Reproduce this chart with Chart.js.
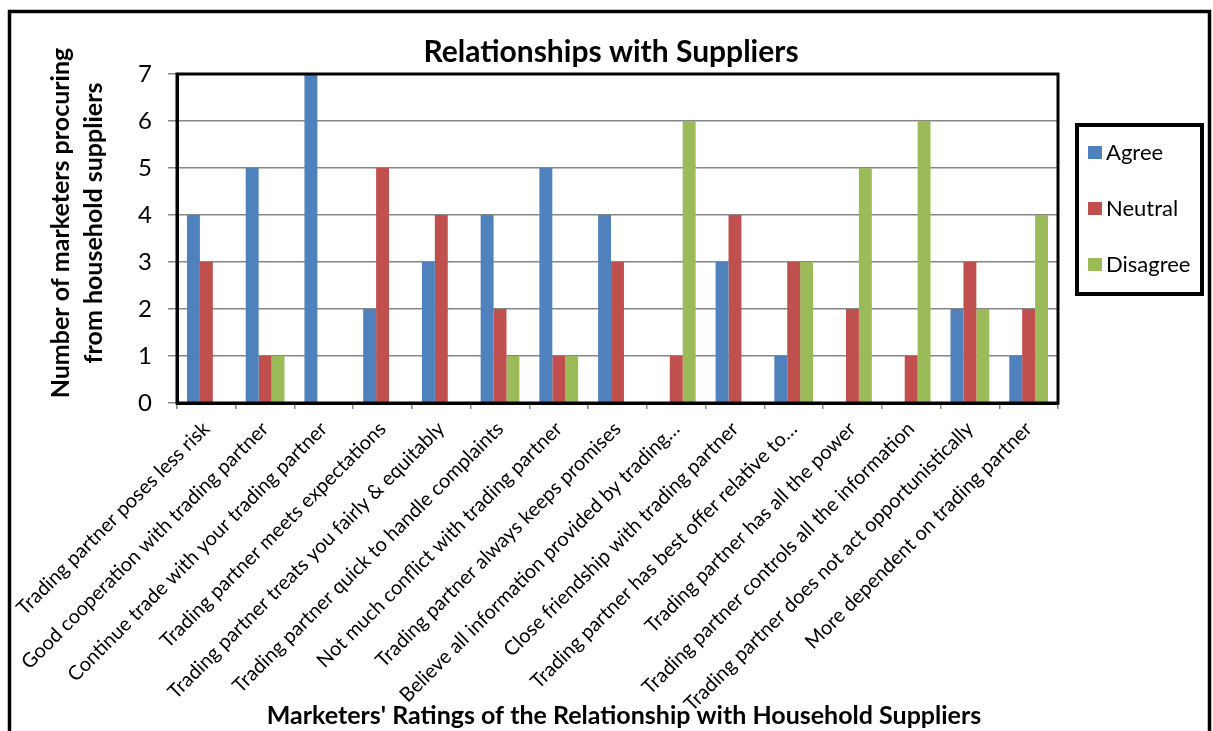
<!DOCTYPE html>
<html>
<head>
<meta charset="utf-8">
<script src="https://cdn.jsdelivr.net/npm/chart.js@4.4.1/dist/chart.umd.min.js"></script>
<style>
    body { margin: 0; background: #fff; }
    #wrap { position: relative; width: 1213px; height: 731px; }
</style>
</head>
<body>
<div id="wrap"><canvas id="suppliersGraph" width="1213" height="731"></canvas></div>
<script>
const categories = [
    "Trading partner poses less risk",
    "Good cooperation with trading partner",
    "Continue trade with your trading partner",
    "Trading partner meets expectations",
    "Trading partner treats you fairly & equitably",
    "Trading partner quick to handle complaints",
    "Not much conflict with trading partner",
    "Trading partner always keeps promises",
    "Believe all information provided by trading\u2026",
    "Close friendship with trading partner",
    "Trading partner has best offer relative to\u2026",
    "Trading partner has all the power",
    "Trading partner controls all the information",
    "Trading partner does not act opportunistically",
    "More dependent on trading partner"
];

const agree    = [4, 5, 7, 2, 3, 4, 5, 4, 0, 3, 1, 0, 0, 2, 1];
const neutral  = [3, 1, 0, 5, 4, 2, 1, 3, 1, 4, 3, 2, 1, 3, 2];
const disagree = [0, 1, 0, 0, 0, 1, 1, 0, 6, 0, 3, 5, 6, 2, 4];

const yTicks = [0, 1, 2, 3, 4, 5, 6, 7];

const chartTitle = "Relationships with Suppliers";
const yTitle = ["Number of marketers procuring", "from household suppliers"];
const xTitle = "Marketers' Ratings of the Relationship with Household Suppliers";

const FONT = "Lato, 'Open Sans', sans-serif";

// frame, titles and the boxed legend, drawn like the excel original
const decorations = {
    id: 'decorations',
    afterDraw(chart) {
        const ctx = chart.ctx;
        const area = chart.chartArea;
        ctx.save();

        // outer border of the picture
        ctx.strokeStyle = '#000';
        ctx.lineWidth = 3.5;
        ctx.strokeRect(9.5, 11.5, 1200, 760);

        // plot frame
        ctx.lineWidth = 3;
        ctx.strokeRect(area.left, area.top, area.right - area.left, area.bottom - area.top);

        ctx.fillStyle = '#000';
        ctx.textAlign = 'center';
        ctx.textBaseline = 'middle';

        ctx.font = "bold 30px " + FONT;
        ctx.fillText(chartTitle, 611, 52);

        ctx.font = "bold 25px " + FONT;
        ctx.fillText(xTitle, 624, 716);

        ctx.save();
        ctx.translate(61, 223);
        ctx.rotate(-Math.PI / 2);
        ctx.fillText(yTitle[0], 0, 0);
        ctx.restore();
        ctx.save();
        ctx.translate(94, 223);
        ctx.rotate(-Math.PI / 2);
        ctx.fillText(yTitle[1], 0, 0);
        ctx.restore();

        // legend box
        ctx.lineWidth = 4;
        ctx.strokeRect(1077, 125, 125, 169);
        ctx.textAlign = 'left';
        ctx.font = "22px " + FONT;
        chart.data.datasets.forEach((ds, i) => {
            const y = 153 + i * 56;
            ctx.fillStyle = ds.backgroundColor;
            ctx.fillRect(1088, y - 7, 14, 13);
            ctx.fillStyle = '#000';
            ctx.fillText(ds.label, 1106, y);
        });

        ctx.restore();
    }
};

const suppliersGraph = document.getElementById('suppliersGraph');

const relationshipChart = new Chart(suppliersGraph, {
    type: 'bar',
    data: {
        labels: categories,
        datasets: [
            { label: 'Agree', data: agree, backgroundColor: '#4F81BD' },
            { label: 'Neutral', data: neutral, backgroundColor: '#C0504D' },
            { label: 'Disagree', data: disagree, backgroundColor: '#9BBB59' }
        ]
    },
    options: {
        responsive: false,
        animation: false,
        layout: {
            padding: { top: 74, right: 155, left: 0, bottom: 0 }
        },
        datasets: {
            bar: {
                categoryPercentage: 0.66,
                barPercentage: 1.0
            }
        },
        plugins: {
            legend: { display: false },
            title: { display: false },
            tooltip: { enabled: false }
        },
        scales: {
            x: {
                afterFit: (scale) => { scale.height = 328; },
                grid: {
                    offset: true,
                    drawOnChartArea: false,
                    drawTicks: true,
                    tickLength: 6,
                    color: '#868686',
                    lineWidth: 1.5
                },
                border: { color: '#000', width: 3 },
                ticks: {
                    autoSkip: false,
                    minRotation: 45,
                    maxRotation: 45,
                    padding: 8,
                    color: '#000',
                    font: { family: FONT, size: 20 }
                }
            },
            y: {
                min: 0,
                max: 7,
                afterFit: (scale) => { scale.width = 177; },
                afterBuildTicks: (scale) => {
                    scale.ticks = yTicks.map(v => ({ value: v }));
                },
                grid: {
                    color: '#868686',
                    lineWidth: 1.5,
                    tickLength: 9
                },
                border: { color: '#000', width: 3 },
                ticks: {
                    padding: 16,
                    color: '#000',
                    font: { family: FONT, size: 24 }
                }
            }
        }
    },
    plugins: [decorations]
});
</script>
</body>
</html>
